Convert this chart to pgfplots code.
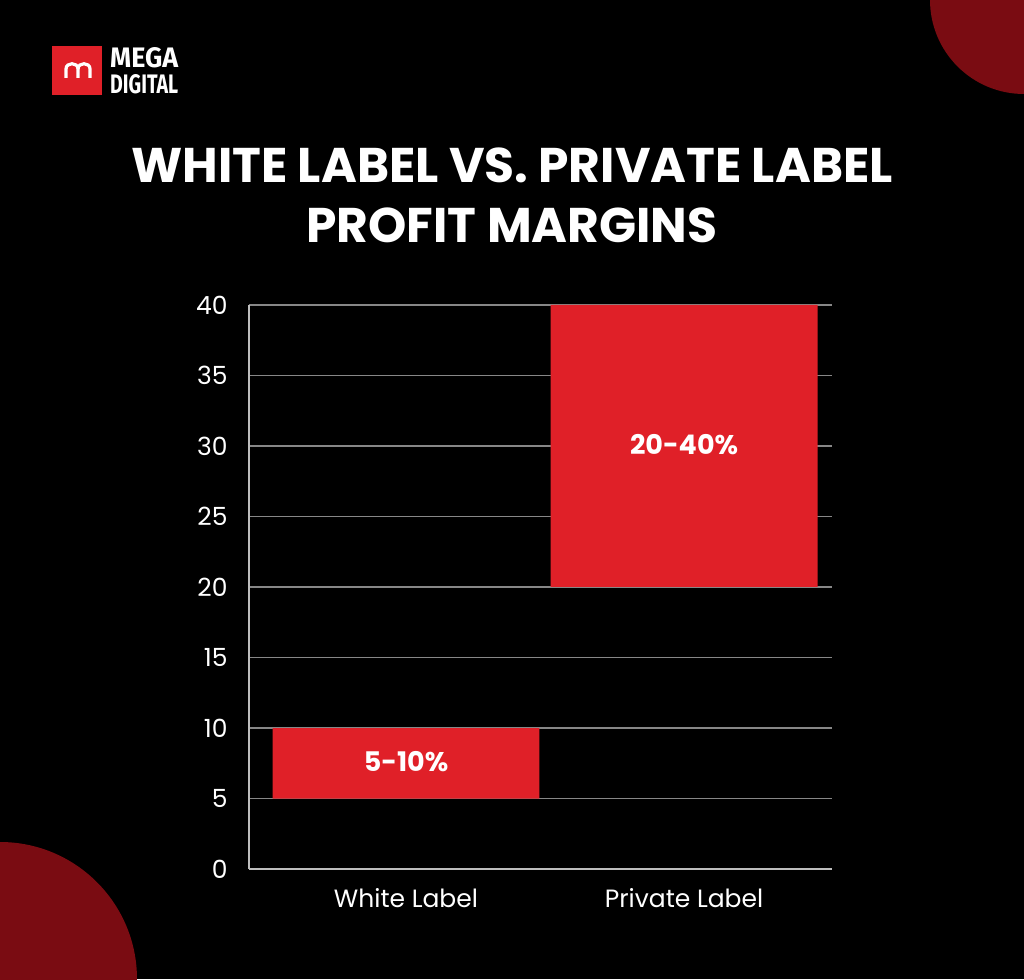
\documentclass[border=0pt]{standalone}
\usepackage{fontspec}
\setmainfont{Poppins}
\newfontfamily\logofont{Fira Sans}
\usepackage{pgfplots}
\pgfplotsset{compat=1.18}
\definecolor{barred}{RGB}{224,32,40}
\definecolor{cornerred}{RGB}{122,12,18}
\definecolor{gridgray}{RGB}{135,135,135}
\definecolor{axisgray}{RGB}{190,190,190}
\begin{document}
\begin{tikzpicture}
% background and corner shapes
\fill[black] (0pt,0pt) rectangle (1024pt,979pt);
\begin{scope}
  \clip (0pt,0pt) rectangle (1024pt,979pt);
  \fill[cornerred] (1024pt,979pt) circle (94pt);
  \fill[cornerred] (0pt,0pt) circle (137pt);
\end{scope}
% logo
\fill[barred] (52pt,884pt) rectangle (102pt,933pt);
\draw[white, line width=3.2pt] (66pt,901pt) -- (66pt,910pt) .. controls (66pt,917pt) and (78pt,917pt) .. (78pt,910pt) -- (78pt,901pt);
\draw[white, line width=3.2pt] (78pt,910pt) .. controls (78pt,917pt) and (90pt,917pt) .. (90pt,910pt) -- (90pt,901pt);
\node[anchor=south west, inner sep=0pt, white] at (110pt,911pt) {\resizebox{68pt}{20pt}{\logofont\bfseries MEGA}};
\node[anchor=south west, inner sep=0pt, white] at (110pt,885pt) {\resizebox{68pt}{19pt}{\logofont\bfseries DIGITAL}};
% title
\node[anchor=base, inner sep=0pt, white] at (512pt,796pt) {\fontsize{48.7}{58}\selectfont\bfseries WHITE LABEL VS. PRIVATE LABEL};
\node[anchor=base, inner sep=0pt, white] at (512pt,736pt) {\fontsize{48.7}{58}\selectfont\bfseries PROFIT MARGINS};
\begin{axis}[
  at={(249pt,110pt)}, anchor=south west,
  scale only axis, width=583pt, height=564pt,
  xmin=-0.5647, xmax=1.532, ymin=0, ymax=40,
  ybar stacked, bar width=0.96,
  xtick={0,1}, xticklabels={White Label, Private Label},
  ytick={0,5,...,40},
  ymajorgrids, grid style={gridgray, line width=1.2pt},
  axis x line=bottom, axis y line=left,
  axis line style={-, axisgray, line width=1.5pt},
  major tick length=0pt,
  ticklabel style={white, font=\fontsize{25}{29}\selectfont},
  xticklabel style={yshift=-16pt},
  yticklabel style={xshift=-18pt},
  /pgf/number format/assume math mode=true,
  clip=false,
]
\addplot[draw=none, fill=none] coordinates {(0,5) (1,20)};
\addplot[draw=none, fill=barred] coordinates {(0,5) (1,20)};
\coordinate (wl) at (axis cs:0,7.6);
\coordinate (pl) at (axis cs:1,30.1);
\end{axis}
\node[white, font=\fontsize{27}{31}\selectfont\bfseries] at (wl) {5-10\%};
\node[white, font=\fontsize{27}{31}\selectfont\bfseries] at (pl) {20-40\%};
\end{tikzpicture}
\end{document}
